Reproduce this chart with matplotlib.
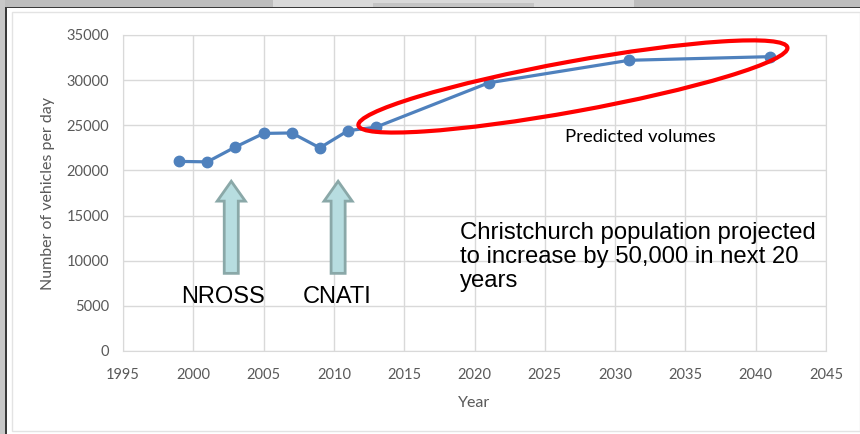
import matplotlib
matplotlib.use("Agg")
import matplotlib.pyplot as plt
from matplotlib.patches import Rectangle, Ellipse, FancyArrow
from matplotlib.transforms import IdentityTransform

# data
years = [1999, 2001, 2003, 2005, 2007, 2009, 2011, 2013, 2021, 2031, 2041]
volumes = [21000, 20950, 22600, 24100, 24150, 22500, 24400, 24800, 29700, 32200, 32600]
xticks = list(range(1995, 2050, 5))
yticks = list(range(0, 35001, 5000))

# arrow annotations (arrow x, label x, label)
events = [(2002.7, 2002.1, "NROSS"), (2010.3, 2010.2, "CNATI")]

W, H = 860, 434
fig = plt.figure(figsize=(W / 100, H / 100), dpi=100, facecolor="white")

# screenshot frame around the chart
def fig_rect(x0, y0, w, h, color, z=0):
    fig.patches.append(Rectangle((x0 / W, 1 - (y0 + h) / H), w / W, h / H,
                                 transform=fig.transFigure, color=color, zorder=z, lw=0))

fig_rect(0, 0, W, 7, "#bdbdbd")
fig_rect(273, 0, 361, 7, "#d9d9d9")
fig_rect(373, 3, 161, 4, "#c4c4c4")
fig_rect(0, 7, W, 1.3, "#3a3a3a")
fig_rect(0, 0, 5, H, "#c8c8c8")
fig_rect(5, 7, 1.5, H, "#3a3a3a")
fig.patches.append(Rectangle((12 / W, 1 - 431 / H), (W - 12) / W, 419 / H,
                             transform=fig.transFigure, fill=False,
                             edgecolor="#e3e3e3", lw=1))

ax = fig.add_axes([123 / W, 1 - 351 / H, (826 - 123) / W, (351 - 35) / H])
ax.set_xlim(1995, 2045)
ax.set_ylim(0, 35000)
ax.set_xticks(xticks)
ax.set_yticks(yticks)
ax.grid(True, color="#d9d9d9", lw=1)
ax.set_axisbelow(True)
for s in ax.spines.values():
    s.set_color("#d9d9d9")
ax.tick_params(length=0, labelsize=10.5, labelcolor="#595959", pad=10)
ax.tick_params(axis="x", pad=12)
for lab in ax.get_xticklabels() + ax.get_yticklabels():
    lab.set_family("Lato")

ax.plot(years, volumes, color="#4f81bd", lw=2.3, marker="o", ms=7.5, zorder=3)

ax.set_xlabel("Year", fontsize=11.5, color="#595959", family="Lato", labelpad=10)
ax.set_ylabel("Number of vehicles per day", fontsize=11.5, color="#595959",
              family="Lato", labelpad=8)

# up arrows with labels
for x, lx, name in events:
    ax.add_patch(FancyArrow(x, 8600, 0, 10200, width=1.0, head_width=2.0,
                            head_length=2200, length_includes_head=True,
                            facecolor="#b7dde0", edgecolor="#8aa8a8", lw=2, zorder=4))
    ax.text(lx, 6000, name, fontsize=17, family="Liberation Sans",
            ha="center", va="center", color="black")

ax.text(2019.0, 10400, "Christchurch population projected\nto increase by 50,000 in next 20\nyears",
        fontsize=17.2, family="Liberation Sans", ha="left", va="center",
        linespacing=1.13, color="black")
ax.text(2031.8, 23700, "Predicted volumes", fontsize=13.3, family="Lato",
        ha="center", va="center", color="black")

# red ellipse around the predicted values
cx, cy = ax.transData.transform((2027.0, 29300))
fig.patches.append(Ellipse((cx, cy), 436, 50, angle=10.3, fill=False,
                           edgecolor="#ff0000", lw=3, transform=IdentityTransform(),
                           zorder=5))

fig.savefig("out.png", dpi=100, facecolor="white")
